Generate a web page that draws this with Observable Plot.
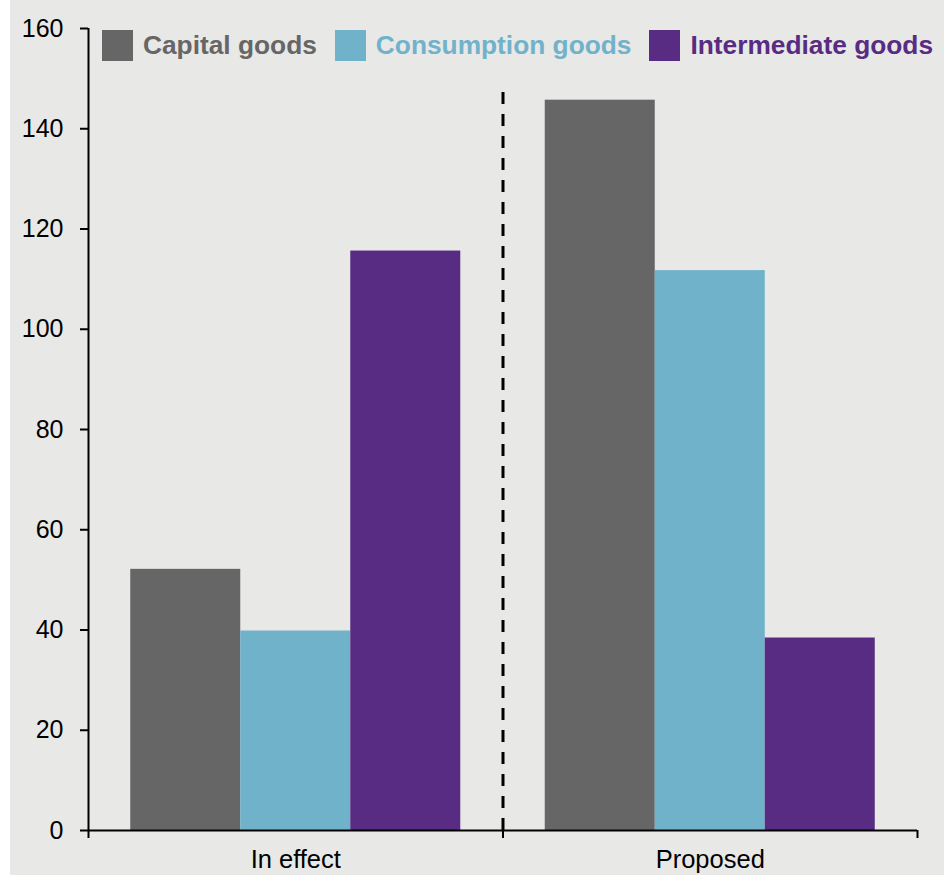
<!DOCTYPE html>
<html><head><meta charset="utf-8">
<script src="https://cdn.jsdelivr.net/npm/d3@7"></script>
<script src="https://cdn.jsdelivr.net/npm/@observablehq/plot@0.6"></script>
<style>
html,body{margin:0;padding:0;background:#fff;}
#wrap{position:relative;margin-left:10px;width:934px;height:875px;background:#e8e8e6;font-family:"Liberation Sans",Arial,sans-serif;overflow:hidden;}
#chart{position:absolute;left:0;top:0;}
#legend{position:absolute;left:92px;top:30px;display:flex;gap:18px;}
.item{display:flex;align-items:center;gap:10px;font-weight:bold;font-size:26.3px;line-height:31px;}
.sw{width:31px;height:31px;}
</style></head><body>
<div id="wrap"><div id="chart"></div><div id="legend"></div></div>
<script>
const categories = ["In effect", "Proposed"];
const series = ["Capital goods", "Consumption goods", "Intermediate goods"];
const capitalGoods = [52.1, 145.7];
const consumptionGoods = [39.8, 111.7];
const intermediateGoods = [115.6, 38.4];
const seriesColors = ["#666666", "#71b2cb", "#582c83"];
const yTicks = [0, 20, 40, 60, 80, 100, 120, 140, 160];
const dividerTop = 148.5;

const seriesValues = [capitalGoods, consumptionGoods, intermediateGoods];
const inner = d3.scaleBand().domain(series).range([0, 1]).paddingInner(0).paddingOuter(0.384);
const rows = categories.flatMap((c, gi) => series.map((s, si) => ({
  category: c, series: s, value: seriesValues[si][gi],
  x1: gi + inner(s), x2: gi + inner(s) + inner.bandwidth()
})));

const chart = Plot.plot({
  width: 934, height: 875,
  marginLeft: 78, marginRight: 27, marginTop: 28, marginBottom: 45,
  style: {background: "transparent", fontFamily: '"Liberation Sans", Arial, sans-serif', fontSize: "25px", color: "black"},
  x: {domain: [0, 2]},
  y: {domain: [0, 160]},
  color: {domain: series, range: seriesColors},
  marks: [
    Plot.rectY(rows, {x1: "x1", x2: "x2", y1: 0, y2: "value", fill: "series"}),
    Plot.ruleX([1], {y1: 0, y2: dividerTop, stroke: "black", strokeWidth: 3, strokeDasharray: "12,10"}),
    Plot.ruleX([0], {stroke: "black", strokeWidth: 2}),
    Plot.ruleY([0], {stroke: "black", strokeWidth: 2}),
    Plot.axisY({ticks: yTicks, tickSize: 8, tickPadding: 17, strokeWidth: 2, tickFormat: d => String(d), fontSize: 25, label: null}),
    Plot.axisX({ticks: [0, 1, 2], tickSize: 8, tickFormat: () => "", strokeWidth: 2, label: null}),
    Plot.axisX({ticks: [0.5, 1.5], tickSize: 0, tickPadding: 19, tickFormat: d => categories[Math.floor(d)], fontSize: 25.5, label: null})
  ]
});
document.getElementById("chart").appendChild(chart);

const legend = d3.select("#legend");
series.forEach((s, i) => {
  const item = legend.append("div").attr("class", "item").style("color", seriesColors[i]);
  item.append("div").attr("class", "sw").style("background", seriesColors[i]);
  item.append("span").text(s);
});
</script>
</body></html>
